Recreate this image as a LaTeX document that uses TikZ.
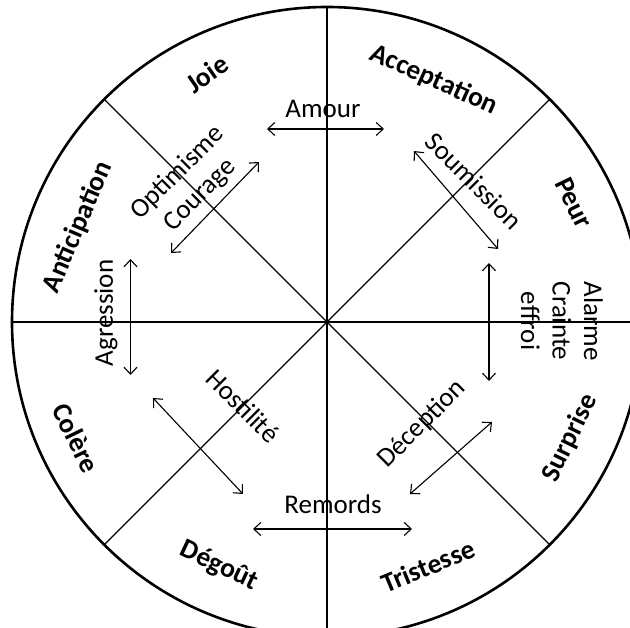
\documentclass[tikz,border=0pt]{standalone}
\usepackage{fontspec}
\setmainfont{Carlito}
\usetikzlibrary{arrows.meta}
\tikzset{
  emotion/.style={inner sep=0pt,outer sep=0pt,font=\bfseries\fontsize{27.5}{33}\selectfont},
  dyad/.style={inner sep=0pt,outer sep=0pt,align=center,font=\fontsize{27}{31.5}\selectfont},
  spoke/.style={line width=1.1pt},
  pairarrow/.style={line width=1.1pt,{Straight Barb[length=7pt,width=13pt]}-{Straight Barb[length=7pt,width=13pt]}}
}
\begin{document}
\begin{tikzpicture}[x=1pt,y=1pt]
\path[use as bounding box] (-327,-306) rectangle (303,322);
\clip (-327,-306) rectangle (303,322);
\coordinate (c) at (0,0);
\draw[line width=2.6pt] (c) circle (315);
\foreach \a in {0,45,...,315}
  \draw[spoke] (c) -- (\a:315);
\node[emotion,rotate=35] (joie) at (-120,248) {Joie};
\node[emotion,rotate=-24] (acceptation) at (107,242) {Acceptation};
\node[emotion,rotate=-64] (peur) at (247,119) {Peur};
\node[emotion,rotate=64] (surprise) at (243,-116) {Surprise};
\node[emotion,rotate=22.5] (tristesse) at (101,-244) {Tristesse};
\node[emotion,rotate=-25] (degout) at (-108,-244) {Dégoût};
\node[emotion,rotate=-64] (colere) at (-251,-116) {Colère};
\node[emotion,rotate=67] (anticipation) at (-249,95) {Anticipation};
\node[dyad] (amour) at (-4,213) {Amour};
\node[dyad] (remords) at (6,-182) {Remords};
\node[dyad,rotate=90] (agression) at (-221,9) {Agression};
\node[dyad,rotate=-90] (alarme) at (235,1) {Alarme\\Crainte\\effroi};
\node[dyad,rotate=45] (optimisme) at (-138,138) {Optimisme\\Courage};
\node[dyad,rotate=-45] (soumission) at (147,141) {Soumission};
\node[dyad,rotate=-45] (hostilite) at (-84,-84) {Hostilité};
\node[dyad,rotate=45] (deception) at (95,-102) {Déception};
\coordinate (amour-l) at (-60,193);
\coordinate (amour-r) at (57,193);
\coordinate (remords-l) at (-74,-207);
\coordinate (remords-r) at (85,-207);
\coordinate (agression-t) at (-196.5,63);
\coordinate (agression-b) at (-196.5,-53);
\coordinate (alarme-t) at (162,59);
\coordinate (alarme-b) at (162,-59);
\coordinate (optimisme-b) at (-156,69);
\coordinate (optimisme-t) at (-68,160);
\coordinate (soumission-t) at (87,171);
\coordinate (soumission-b) at (171,73);
\coordinate (hostilite-t) at (-174,-76);
\coordinate (hostilite-b) at (-84,-172);
\coordinate (deception-b) at (83,-172);
\coordinate (deception-t) at (165,-100);
\draw[pairarrow] (amour-l) -- (amour-r);
\draw[pairarrow] (remords-l) -- (remords-r);
\draw[pairarrow] (agression-t) -- (agression-b);
\draw[pairarrow] (alarme-t) -- (alarme-b);
\draw[pairarrow] (optimisme-b) -- (optimisme-t);
\draw[pairarrow] (soumission-t) -- (soumission-b);
\draw[pairarrow] (hostilite-t) -- (hostilite-b);
\draw[pairarrow] (deception-b) -- (deception-t);
\end{tikzpicture}
\end{document}
